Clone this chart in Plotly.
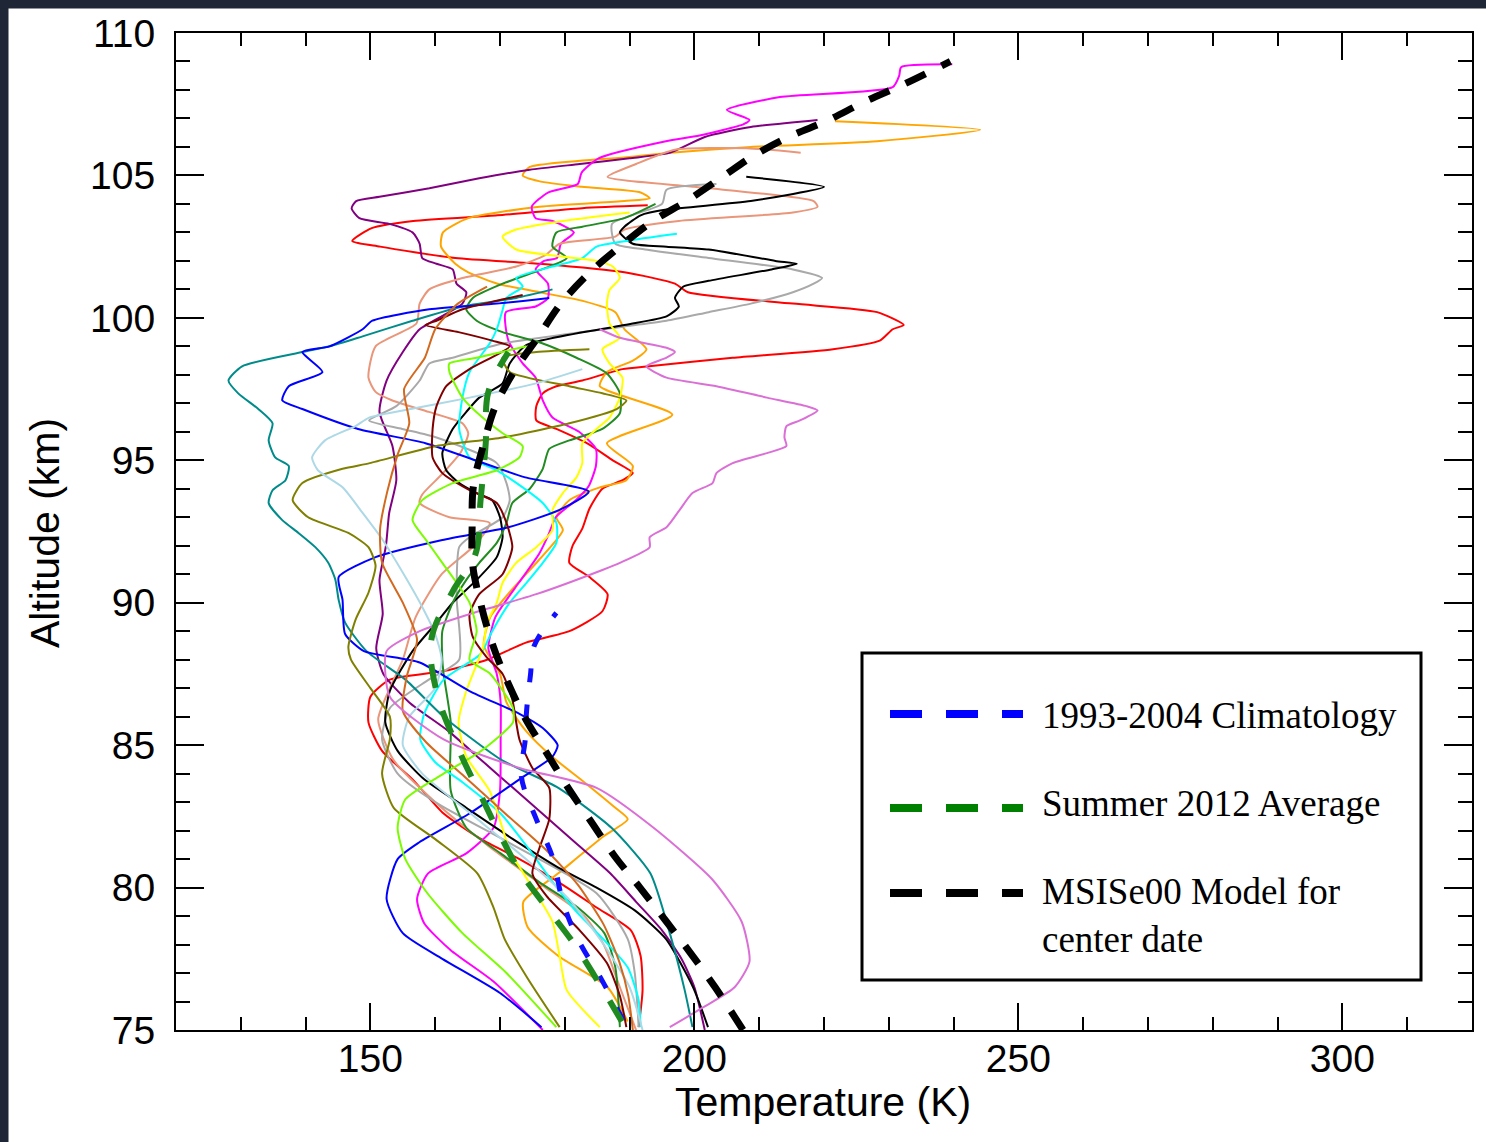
import plotly.graph_objects as go

# ---------------- individual lidar temperature profiles (altitude km, temperature K) ----------------
red_km = [75.1, 76.4, 77.6, 78.5, 79.3, 80.2, 81.0, 81.7, 82.6, 83.8, 84.8, 85.8, 86.7, 87.3, 87.6, 88.0, 88.6,
          89.0, 89.7, 90.3, 90.9, 91.4, 92.0, 92.6, 93.3, 94.0, 94.3, 94.55, 95.0, 95.6, 96.1, 96.4, 96.9, 97.35,
          97.6, 97.8, 98.2, 98.3, 98.6, 98.9, 99.2, 99.6, 99.75, 100.2, 100.5, 100.9, 101.2, 101.6, 101.9, 102.1,
          102.5, 102.7, 103.15, 103.4, 103.6, 103.85, 103.95]
red_K = [191.4, 192.0, 191.7, 190.2, 184.9, 179.0, 173.0, 167.1, 161.3, 156.5, 151.8, 149.7, 150.0, 153.0, 161.3,
         168.0, 174.0, 180.7, 185.8, 186.6, 183.8, 180.7, 181.2, 182.7, 183.8, 185.8, 188.9, 190.5, 187.4, 183.4,
         178.7, 175.6, 175.6, 176.6, 178.7, 182.7, 188.9, 193.0, 205.9, 221.4, 228.6, 230.6, 232.3, 228.2, 215.2,
         199.0, 197.0, 189.2, 176.1, 163.1, 151.5, 147.2, 150.2, 156.6, 169.6, 182.7, 192.8]

orange_km = [75.3, 76.5, 77.6, 78.6, 79.5, 80.5, 81.8, 82.4, 82.8, 83.7, 84.6, 85.5, 86.5, 87.5, 88.5, 89.5, 90.5,
             91.5, 92.55, 93.0, 93.6, 94.05, 94.3, 94.8, 95.6, 96.6, 97.6, 98.1, 98.5, 98.9, 99.6, 100.2, 100.6,
             100.9, 101.2, 101.6, 101.9, 102.5, 103.0, 103.5, 103.9, 104.1, 104.2, 104.4, 104.6, 104.8, 105.0,
             105.3, 105.65, 105.8, 106.0, 106.2, 106.6, 106.9]
orange_K = [189.7, 186.6, 179.0, 174.3, 173.6, 179.0, 186.0, 189.7, 187.8, 183.0, 178.0, 174.0, 171.0, 170.0, 167.5,
            168.5, 172.0, 176.0, 179.7, 178.7, 180.7, 185.4, 189.5, 190.5, 186.5, 196.6, 185.4, 186.5, 190.5, 192.6,
            189.2, 187.8, 182.7, 176.1, 169.6, 165.1, 163.1, 160.9, 161.2, 165.1, 176.1, 189.2, 193.1, 191.7, 182.6,
            176.0, 173.5, 174.6, 190.0, 196.3, 208.7, 228.2, 244.1, 221.7]

purple_km = [75.0, 76.5, 77.5, 78.5, 79.5, 80.5, 81.5, 82.5, 83.5, 84.5, 85.5, 86.5, 87.5, 88.4, 89.6, 90.8, 92.0,
             93.15, 94.3, 95.5, 96.7, 97.8, 98.8, 99.6, 100.5, 100.9, 101.2, 101.7, 101.9, 102.1, 102.6, 103.0,
             103.3, 103.5, 103.85, 104.1, 104.25, 104.55, 104.9, 105.2, 105.4, 105.6, 105.8, 106.35, 106.7, 106.95]
purple_K = [201.6, 200.0, 198.0, 195.0, 191.0, 187.0, 182.0, 177.0, 172.0, 167.0, 162.0, 156.0, 152.0, 150.9, 151.9,
            151.4, 152.4, 152.9, 154.0, 153.4, 151.4, 152.5, 155.0, 157.6, 164.2, 164.8, 163.3, 162.7, 160.2, 158.0,
            157.6, 156.5, 152.9, 148.3, 147.1, 147.8, 151.4, 159.1, 166.8, 174.6, 182.3, 190.0, 196.3, 201.6, 208.7,
            219.0]

magenta_km = [75.0, 76.7, 77.8, 78.75, 79.6, 80.5, 81.2, 82.1, 83.4, 85.2, 86.5, 87.5, 88.4, 89.5, 90.7, 91.7, 92.4,
              93.0, 93.6, 94.1, 94.8, 95.4, 96.0, 96.5, 97.1, 97.9, 98.4, 99.2, 100.2, 100.4, 100.7, 101.2, 101.7,
              102.0, 102.1, 102.6, 103.0, 103.4, 103.5, 103.9, 104.4, 104.7, 105.1, 105.6, 106.2, 106.4, 106.8,
              106.95, 107.3, 107.75, 108.1, 108.5, 108.8, 108.9]
magenta_K = [176.6, 169.0, 162.4, 158.3, 157.2, 158.9, 164.8, 169.0, 170.0, 170.1, 170.1, 169.5, 168.2, 169.3, 172.9,
             176.0, 177.5, 178.6, 181.7, 183.7, 184.8, 184.8, 182.2, 178.1, 176.6, 175.5, 173.5, 171.3, 170.9, 175.5,
             177.4, 177.4, 175.5, 176.8, 178.8, 179.4, 181.4, 178.1, 175.5, 174.9, 177.4, 182.0, 182.6, 185.2, 195.6,
             200.8, 207.6, 208.5, 205.0, 213.2, 230.6, 231.6, 231.9, 239.8]

salmon_km = [75.0, 76.5, 78.0, 79.0, 80.0, 81.5, 83.0, 84.5, 85.9, 87.0, 88.0, 89.5, 91.0, 92.0, 92.8, 93.0, 93.5,
             93.8, 94.5, 95.3, 95.95, 96.3, 96.7, 97.1, 97.4, 97.9, 99.0, 99.8, 100.5, 101.0, 101.4, 101.8, 102.2,
             102.6, 102.85, 103.1, 103.4, 103.7, 103.9, 104.1, 104.6, 104.95, 105.4, 105.9, 105.95, 105.8]
salmon_K = [191.0, 188.5, 186.0, 183.0, 177.0, 168.0, 160.0, 153.5, 151.2, 153.0, 155.0, 157.0, 161.0, 166.0, 168.4,
            162.2, 157.6, 158.0, 161.0, 164.0, 165.1, 164.2, 159.0, 153.4, 150.8, 149.7, 150.8, 157.1, 157.6, 159.1,
            164.2, 172.5, 177.0, 179.2, 187.8, 189.2, 197.6, 215.2, 219.0, 218.4, 200.0, 186.6, 191.0, 197.0, 208.0,
            216.4]

gray_km = [75.1, 77.0, 78.2, 79.8, 81.5, 83.0, 84.0, 85.2, 86.3, 87.3, 88.0, 90.2, 91.95, 92.3, 93.0, 93.6, 94.2,
           94.9, 95.8, 96.1, 96.4, 96.9, 97.8, 98.4, 98.6, 99.1, 99.7, 99.9, 100.2, 100.5, 100.9, 101.2, 101.4,
           101.7, 102.1, 102.4, 102.6, 103.3, 104.0, 104.5, 104.7]
gray_K = [191.4, 190.8, 189.7, 184.9, 172.0, 160.0, 154.2, 151.8, 153.0, 159.0, 163.7, 163.3, 163.7, 165.3, 170.4,
          171.5, 171.0, 169.5, 160.2, 154.9, 149.8, 154.0, 157.6, 159.1, 162.7, 170.4, 189.2, 195.7, 202.2, 208.7,
          215.2, 218.4, 219.7, 215.2, 202.2, 192.4, 187.8, 187.3, 195.0, 195.7, 203.4]

black_km = [75.1, 76.5, 78.2, 79.2, 80.0, 80.7, 81.7, 82.8, 83.8, 84.8, 85.8, 86.9, 88.3, 89.3, 90.0, 90.8, 91.6,
            92.3, 93.0, 93.6, 93.85, 94.2, 94.65, 95.25, 96.1, 96.7, 97.2, 97.7, 98.4, 99.05, 99.75, 100.05, 100.4,
            100.7, 101.1, 101.3, 101.7, 101.9, 102.0, 102.4, 102.5, 102.6, 103.0, 103.2, 103.6, 103.8, 104.1, 104.6,
            104.95]
black_K = [202.1, 199.8, 195.6, 190.8, 184.9, 179.0, 172.0, 164.8, 158.3, 154.2, 152.3, 153.0, 156.5, 160.2, 162.7,
           166.4, 169.5, 170.4, 170.0, 168.8, 166.4, 163.7, 161.7, 161.1, 162.7, 164.8, 166.8, 170.4, 171.5, 174.1,
           189.2, 195.7, 197.6, 197.0, 198.3, 202.2, 211.9, 215.8, 212.5, 202.2, 195.7, 190.5, 188.5, 189.2, 191.7,
           195.7, 208.7, 220.0, 208.0]

green_km = [75.1, 77.2, 78.4, 79.3, 80.2, 81.2, 82.1, 83.4, 85.8, 87.5, 88.0, 89.0, 90.0, 90.8, 91.4, 92.1, 92.8,
            93.5, 94.0, 94.7, 95.4, 95.7, 96.1, 96.65, 97.35, 98.05, 98.6, 99.1, 99.5, 99.9, 100.3, 100.7, 101.2,
            101.8, 102.1, 102.5, 103.0, 103.2, 103.5, 104.0]
green_K = [188.5, 187.8, 186.1, 182.0, 176.0, 170.1, 164.8, 162.4, 162.4, 161.3, 161.1, 161.1, 162.7, 164.8, 166.8,
           169.5, 171.0, 171.9, 174.6, 176.6, 177.6, 180.7, 185.8, 188.5, 188.5, 186.5, 181.8, 176.6, 170.4, 166.4,
           164.8, 165.8, 170.4, 177.6, 180.3, 178.1, 178.7, 182.7, 189.2, 194.0]

cyan_km = [75.1, 76.05, 77.2, 78.15, 79.1, 80.3, 81.4, 82.6, 83.7, 84.4, 85.2, 86.1, 87.3, 88.2, 89.0, 90.0, 90.7,
           91.4, 92.1, 92.8, 93.5, 94.05, 94.65, 95.1, 96.1, 97.2, 98.1, 99.1, 99.6, 100.2, 100.7, 101.1, 101.4,
           101.8, 102.1, 102.5, 102.7, 102.95]
cyan_K = [191.7, 191.4, 189.7, 186.1, 182.0, 177.8, 174.3, 170.1, 164.2, 160.0, 157.7, 158.3, 161.3, 167.0, 168.8,
          171.5, 174.1, 176.6, 178.7, 178.7, 176.6, 173.5, 169.5, 165.3, 163.7, 164.2, 165.3, 168.4, 169.5, 170.3,
          171.0, 173.5, 172.5, 178.1, 182.7, 184.9, 189.5, 197.3]

yellow_km = [75.1, 76.4, 77.6, 78.8, 80.0, 81.3, 82.0, 83.4, 84.6, 85.8, 86.9, 88.45, 89.3, 90.0, 90.7, 91.4, 91.95,
             92.55, 93.25, 93.85, 94.4, 94.9, 95.6, 96.1, 96.5, 97.2, 97.9, 98.4, 98.9, 99.3, 99.8, 100.5, 100.98,
             101.4, 101.8, 102.0, 102.4, 102.85, 103.1, 103.4, 103.7]
yellow_K = [185.4, 180.3, 179.2, 178.1, 175.0, 171.5, 170.5, 168.4, 164.8, 163.6, 164.8, 167.4, 168.0, 169.5, 170.4,
            172.5, 175.6, 178.1, 178.1, 179.7, 181.8, 182.7, 182.7, 184.9, 186.9, 188.5, 188.9, 186.9, 185.8, 188.5,
            186.9, 186.5, 186.9, 188.5, 187.4, 184.9, 172.5, 170.4, 172.5, 179.7, 190.0]

teal_km = [75.1, 76.4, 78.4, 80.5, 82.1, 83.5, 84.5, 86.0, 87.3, 88.3, 89.3, 90.1, 90.8, 91.4, 91.95, 92.45, 92.9,
           93.5, 93.95, 94.3, 94.8, 95.1, 95.7, 96.3, 96.8, 97.35, 97.8, 98.3, 98.8, 99.0, 99.35, 99.9, 100.4, 100.7,
           101.0]
teal_K = [199.7, 198.5, 196.2, 193.2, 187.2, 179.0, 170.1, 161.3, 155.4, 149.4, 146.1, 145.1, 144.6, 143.5, 141.5,
          138.9, 136.4, 134.3, 134.9, 136.9, 137.4, 135.3, 134.3, 134.9, 132.7, 129.6, 128.1, 130.2, 139.5, 143.7,
          148.8, 156.5, 164.2, 172.5, 178.1]

blue_km = [75.1, 76.3, 77.5, 78.4, 79.6, 81.0, 81.6, 82.6, 83.8, 84.6, 85.0, 85.6, 86.1, 86.9, 87.9, 88.3, 88.9,
           90.1, 90.9, 91.6, 92.2, 92.65, 93.25, 93.9, 94.4, 95.0, 95.6, 96.1, 96.8, 97.1, 97.6, 98.1, 98.8, 99.0,
           99.6, 99.9, 100.3, 100.5, 100.7]
blue_K = [176.4, 170.0, 161.1, 155.0, 152.5, 154.2, 157.6, 165.3, 173.0, 178.1, 178.9, 176.6, 173.0, 165.3, 157.6,
          149.0, 146.1, 145.7, 145.1, 150.8, 161.1, 171.3, 179.1, 183.7, 173.9, 166.2, 158.5, 148.1, 139.5, 136.4,
          137.4, 142.6, 139.5, 143.7, 148.8, 150.3, 159.1, 169.5, 177.6]

olive_km = [75.1, 76.8, 78.2, 79.3, 80.5, 81.7, 82.8, 84.0, 85.2, 86.0, 87.0, 88.0, 88.45, 89.4, 90.35, 91.3, 91.95,
            92.45, 93.0, 93.6, 94.2, 94.7, 94.9, 95.5, 95.8, 96.3, 96.8, 97.1, 97.35, 97.6, 98.1, 98.6, 98.8, 98.9]
olive_K = [179.2, 174.3, 170.7, 169.0, 166.5, 160.0, 153.6, 151.8, 153.0, 153.0, 150.0, 147.0, 146.6, 147.7, 149.7,
           150.8, 149.7, 146.6, 140.4, 138.0, 139.5, 145.7, 149.9, 160.2, 170.4, 180.7, 188.0, 189.5, 185.8, 180.7,
           171.5, 170.4, 175.6, 183.8]

lightblue_km = [75.0, 76.5, 78.0, 79.5, 81.0, 82.5, 84.0, 85.0, 86.0, 87.0, 88.0, 88.9, 89.85, 90.9, 92.2, 93.15,
                94.05, 94.65, 95.1, 95.7, 96.2, 96.5, 96.75, 97.2, 97.7, 98.2]
lightblue_K = [192.0, 190.0, 186.0, 181.0, 174.0, 166.0, 158.0, 155.0, 156.0, 160.0, 161.0, 160.0, 158.0, 155.4,
               151.9, 148.8, 145.7, 141.9, 141.0, 143.0, 147.7, 149.8, 155.0, 165.3, 175.6, 182.7]

maroon_km = [75.1, 76.2, 77.35, 78.5, 79.7, 80.5, 81.4, 82.4, 83.5, 84.2, 85.2, 86.6, 87.5, 88.1, 88.8, 89.6, 90.3,
             91.0, 91.95, 92.8, 93.5, 93.95, 94.55, 95.1, 96.1, 96.9, 97.6, 98.2, 99.0, 99.2, 99.5, 99.75, 99.9,
             100.3, 100.6, 100.8]
maroon_K = [189.5, 188.5, 186.5, 182.3, 177.2, 175.0, 176.1, 177.6, 177.6, 175.0, 173.0, 171.9, 170.4, 167.9, 165.8,
            165.3, 166.8, 170.4, 171.9, 171.0, 169.5, 165.3, 161.1, 159.6, 159.6, 160.2, 161.7, 165.3, 171.5, 168.8,
            163.6, 158.5, 160.2, 164.2, 169.5, 173.5]

chocolate_km = [75.0, 76.2, 77.4, 78.7, 80.1, 81.3, 82.6, 83.9, 85.1, 86.2, 87.4, 88.7, 90.0, 91.4, 92.6, 93.9, 95.2,
                96.3, 97.5, 98.6, 99.6, 100.5, 101.1]
chocolate_K = [190.5, 189.8, 188.4, 186.0, 182.0, 177.2, 170.8, 164.5, 158.6, 155.0, 155.6, 157.2, 155.0, 151.8,
               151.5, 152.6, 154.2, 156.0, 155.2, 158.4, 160.0, 163.5, 168.0]

orchid_km = [75.1, 75.8, 76.5, 77.4, 78.8, 80.3, 82.1, 83.5, 84.2, 85.2, 86.7, 88.3, 89.0, 89.6, 90.3, 91.15, 91.4,
             91.95, 92.3, 92.65, 93.25, 93.85, 94.2, 94.55, 94.9, 95.25, 95.5, 95.8, 96.2, 96.4, 96.75, 96.9, 97.2,
             97.6, 97.9, 98.3, 98.6, 98.8, 98.95, 99.3, 99.6]
orchid_K = [196.2, 201.4, 206.2, 208.5, 207.3, 202.7, 193.7, 184.9, 173.0, 161.3, 153.0, 152.5, 157.6, 165.3, 175.6,
            185.8, 188.5, 193.1, 193.1, 195.7, 197.7, 199.7, 202.8, 203.4, 205.9, 211.2, 214.2, 213.9, 214.2, 216.3,
            219.0, 217.3, 211.2, 203.4, 195.7, 192.6, 195.7, 197.0, 195.7, 188.5, 185.4]

lawngreen_km = [75.1, 77.0, 78.4, 79.8, 81.0, 82.1, 83.1, 84.0, 84.8, 85.8, 86.3, 87.5, 88.0, 89.0, 90.0, 90.7, 91.4,
                92.2, 92.9, 93.6, 94.2, 94.65, 95.1, 95.5, 95.95, 96.5, 97.2, 98.1, 98.4, 98.6, 99.0]
lawngreen_K = [178.7, 171.0, 164.2, 158.8, 155.4, 154.2, 155.4, 161.3, 167.1, 172.0, 172.0, 168.5, 165.3, 166.4,
               165.3, 163.3, 161.1, 158.6, 156.5, 158.0, 162.7, 169.5, 173.0, 173.5, 170.4, 167.3, 164.2, 162.2,
               162.2, 166.4, 174.1]

# ---------------- reference profiles ----------------
clim_km = [75.35, 76.76, 78.2, 79.5, 81.07, 82.4, 83.9, 85.2, 86.2, 87.46, 88.5, 89.64]
clim_K = [189.0, 185.7, 182.0, 179.7, 178.1, 175.6, 173.3, 173.9, 174.1, 174.7, 175.3, 178.7]

summer_km = [75.3, 76.6, 78.0, 79.3, 80.6, 81.9, 83.2, 84.8, 86.8, 88.7, 90.4, 91.7, 93.6, 95.6, 97.4, 98.8]
summer_K = [188.8, 185.4, 181.5, 177.2, 173.0, 169.9, 167.1, 163.7, 160.3, 159.4, 162.7, 166.2, 167.0, 167.8, 168.2,
            171.3]

msis_km = [75.0, 76.5, 77.7, 78.8, 80.0, 81.1, 82.3, 83.4, 84.65, 85.9, 87.2, 88.5, 89.9, 91.3, 92.7, 94.1, 95.5,
           96.9, 98.2, 99.3, 100.5, 101.6, 102.5, 103.4, 104.1, 104.96, 105.7, 106.4, 106.9, 107.6, 108.2, 109.0]
msis_K = [207.5, 203.2, 199.4, 195.7, 191.6, 187.7, 184.1, 180.8, 177.4, 174.0, 171.2, 168.9, 167.1, 165.8, 165.7,
          165.9, 167.4, 169.3, 172.4, 175.8, 179.4, 183.9, 188.5, 193.6, 198.8, 204.4, 209.2, 215.0, 220.3, 226.4,
          232.3, 239.5]

legend_labels = ["1993-2004 Climatology", "Summer 2012 Average", "MSISe00 Model for<br>center date"]

profiles = [
    (red_K, red_km, "#ff0000"),
    (orange_K, orange_km, "#ffa500"),
    (purple_K, purple_km, "#800080"),
    (magenta_K, magenta_km, "#ff00ff"),
    (salmon_K, salmon_km, "#e9967a"),
    (gray_K, gray_km, "#a9a9a9"),
    (black_K, black_km, "#000000"),
    (green_K, green_km, "#228b22"),
    (cyan_K, cyan_km, "#00ffff"),
    (yellow_K, yellow_km, "#ffff00"),
    (teal_K, teal_km, "#008b8b"),
    (blue_K, blue_km, "#0000ff"),
    (olive_K, olive_km, "#808000"),
    (lightblue_K, lightblue_km, "#add8e6"),
    (maroon_K, maroon_km, "#800000"),
    (chocolate_K, chocolate_km, "#d2691e"),
    (orchid_K, orchid_km, "#da70d6"),
    (lawngreen_K, lawngreen_km, "#7cfc00"),
]

fig = go.Figure()

for temps, alts, col in profiles:
    fig.add_trace(go.Scatter(x=temps, y=alts, mode="lines",
                             line=dict(color=col, width=2, shape="spline", smoothing=0.6),
                             showlegend=False, hoverinfo="skip"))

fig.add_trace(go.Scatter(x=clim_K, y=clim_km, mode="lines",
                         line=dict(color="#1010ff", width=5, dash="14px,22px", shape="spline"),
                         showlegend=False))
fig.add_trace(go.Scatter(x=summer_K, y=summer_km, mode="lines",
                         line=dict(color="#1f8a1f", width=6, dash="24px,24px", shape="spline"),
                         showlegend=False))
fig.add_trace(go.Scatter(x=msis_K, y=msis_km, mode="lines",
                         line=dict(color="#000000", width=7, dash="22px,18px", shape="spline"),
                         showlegend=False))

# ---------------- page geometry helpers (pixel -> paper) ----------------
W, H = 1486, 1142
L, R, T, B = 176, 1472, 33, 1030


def px(x):
    return (x - L) / (R - L)


def py(y):
    return (B - y) / (B - T)


shapes = []
# dark frame strips along left and top of the page
shapes.append(dict(type="rect", xref="paper", yref="paper", x0=px(0), x1=px(8.5), y0=py(H), y1=py(0),
                   fillcolor="#1f2636", line=dict(width=0), layer="above"))
shapes.append(dict(type="rect", xref="paper", yref="paper", x0=px(0), x1=px(W), y0=py(8.5), y1=py(0),
                   fillcolor="#1f2636", line=dict(width=0), layer="above"))

# legend frame
shapes.append(dict(type="rect", xref="paper", yref="paper", x0=px(862), x1=px(1421), y0=py(980), y1=py(653),
                   fillcolor="white", line=dict(color="black", width=3), layer="above"))

legend_colors = ["#0000ff", "#008000", "#000000"]
legend_rows = [714, 808, 893]
legend_text_y = [715, 803, 915]
for col, yy in zip(legend_colors, legend_rows):
    shapes.append(dict(type="line", xref="paper", yref="paper", x0=px(890), x1=px(1023), y0=py(yy), y1=py(yy),
                       line=dict(color=col, width=8, dash="32px,24px"), layer="above"))

annotations = []
for txt, yy in zip(legend_labels, legend_text_y):
    annotations.append(dict(text=txt, xref="paper", yref="paper", x=px(1040), y=py(yy), xanchor="left",
                            yanchor="middle", align="left", showarrow=False,
                            font=dict(family="Liberation Serif", size=37, color="black")))

annotations.append(dict(text="Temperature (K)", xref="paper", yref="paper", x=px(823), y=py(1102),
                        xanchor="center", yanchor="middle", showarrow=False,
                        font=dict(family="Liberation Sans", size=41, color="black")))
annotations.append(dict(text="Altitude (km)", xref="paper", yref="paper", x=px(45), y=py(533),
                        xanchor="center", yanchor="middle", textangle=-90, showarrow=False,
                        font=dict(family="Liberation Sans", size=41, color="black")))

axis_common = dict(showgrid=False, zeroline=False, showline=True, linecolor="black", linewidth=2,
                   mirror="ticks", ticks="inside", tickwidth=2, tickcolor="black",
                   tickfont=dict(family="Liberation Sans", size=39, color="black"))

fig.update_layout(
    width=W, height=H,
    margin=dict(l=L, r=W - R, t=T, b=H - B),
    paper_bgcolor="white", plot_bgcolor="white",
    showlegend=False,
    xaxis=dict(range=[120, 320], tick0=150, dtick=50, ticklen=27, ticklabelstandoff=-7,
               minor=dict(dtick=10, tick0=120, ticks="inside", ticklen=13, tickwidth=2, tickcolor="black"),
               **axis_common),
    yaxis=dict(range=[75, 110], tick0=75, dtick=5, ticklen=28, ticklabelstandoff=11,
               minor=dict(dtick=1, tick0=75, ticks="inside", ticklen=14, tickwidth=2, tickcolor="black"),
               **axis_common),
    shapes=shapes,
    annotations=annotations,
)

fig.write_html("out.html")
